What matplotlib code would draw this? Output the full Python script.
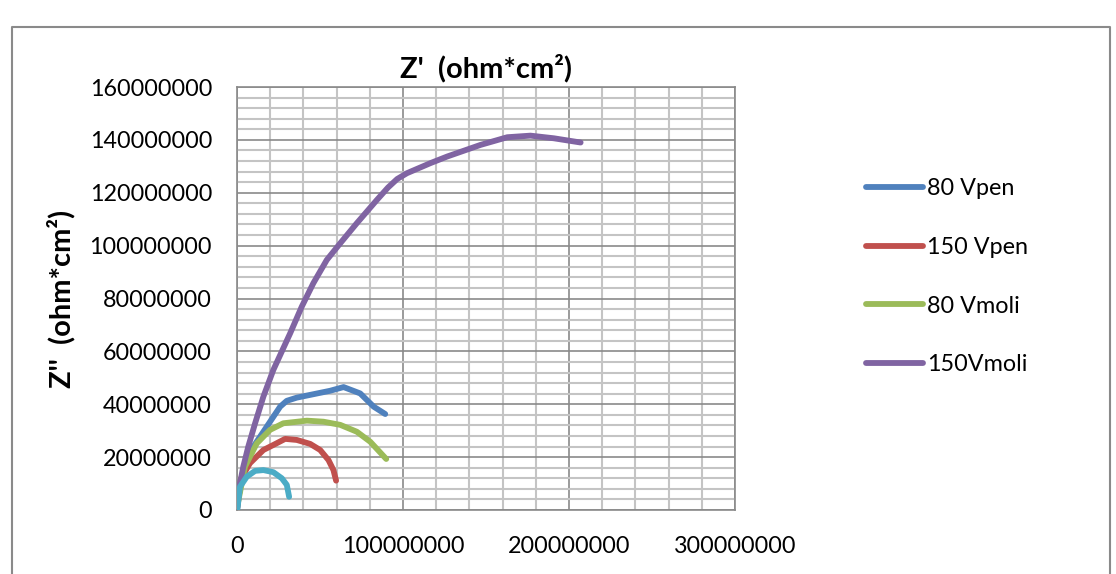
import matplotlib
matplotlib.use('Agg')
import matplotlib.pyplot as plt
from matplotlib.ticker import MultipleLocator
from matplotlib.lines import Line2D

plt.rcParams['font.family'] = ['Lato', 'DejaVu Sans']

# Data (values in ohm*cm^2)
x_80vpen = [0.2e6, 3.8e6, 9.8e6, 17.9e6, 26.0e6, 30.0e6, 36.0e6, 56.1e6, 64.2e6, 74.2e6, 82.3e6, 89.3e6]
y_80vpen = [2.5e6, 15.1e6, 23.9e6, 31.5e6, 39.1e6, 41.3e6, 42.5e6, 45.1e6, 46.5e6, 44.1e6, 39.1e6, 36.3e6]

x_150vpen = [0.2e6, 2.5e6, 7.8e6, 15.9e6, 21.9e6, 29.0e6, 36.0e6, 44.1e6, 50.1e6, 55.1e6, 58.1e6, 59.7e6]
y_150vpen = [1.0e6, 12.0e6, 17.7e6, 22.7e6, 24.6e6, 26.9e6, 26.5e6, 25.0e6, 22.7e6, 18.9e6, 15.1e6, 11.1e6]

x_80vmoli = [0.2e6, 4.8e6, 11.9e6, 19.9e6, 27.9e6, 42.1e6, 52.1e6, 62.2e6, 72.2e6, 80.3e6, 89.9e6]
y_80vmoli = [1.5e6, 16.4e6, 25.2e6, 30.3e6, 32.8e6, 33.8e6, 33.4e6, 32.2e6, 29.6e6, 25.8e6, 19.3e6]

x_150vmoli = [0, 1.4e6, 3.8e6, 6.8e6, 10.9e6, 15.9e6, 21.9e6, 32.0e6, 39.0e6, 46.0e6, 54.1e6, 62.2e6,
              72.2e6, 84.3e6, 91.0e6, 96.5e6, 102.4e6, 116.5e6, 126.6e6, 146.7e6, 162.8e6, 176.8e6,
              190.9e6, 207.0e6]
y_150vmoli = [0, 8.8e6, 16.4e6, 24.0e6, 32.8e6, 42.9e6, 53.0e6, 66.8e6, 76.9e6, 85.8e6, 94.6e6, 100.9e6,
              108.5e6, 117.3e6, 122.0e6, 125.2e6, 127.4e6, 131.2e6, 133.7e6, 138.1e6, 141.0e6, 141.6e6,
              140.6e6, 139.0e6]

# fifth series, not shown in the legend
x_extra = [0.2e6, 1.8e6, 5.9e6, 10.9e6, 15.9e6, 21.9e6, 27.0e6, 30.0e6, 31.4e6]
y_extra = [0, 8.8e6, 12.6e6, 14.8e6, 15.1e6, 14.3e6, 12.0e6, 9.5e6, 5.0e6]

fig = plt.figure(figsize=(11.16, 5.74), dpi=100)
ax = fig.add_axes([237/1116, 64/574, 498/1116, 423/574])

lw = 4.2
kw = dict(lw=lw, solid_capstyle='round', solid_joinstyle='round', zorder=3)
ax.plot(x_80vpen, y_80vpen, color='#4f81bd', label='80 Vpen', **kw)
ax.plot(x_150vpen, y_150vpen, color='#c0504d', label='150 Vpen', **kw)
ax.plot(x_80vmoli, y_80vmoli, color='#9bbb59', label='80 Vmoli', **kw)
ax.plot(x_150vmoli, y_150vmoli, color='#8064a2', label='150Vmoli', **kw)
ax.plot(x_extra, y_extra, color='#4bacc6', label='_nolegend_', **kw)

ax.set_xlim(0, 300000000)
ax.set_ylim(0, 160000000)
ax.xaxis.set_major_locator(MultipleLocator(100000000))
ax.xaxis.set_minor_locator(MultipleLocator(20000000))
ax.yaxis.set_major_locator(MultipleLocator(20000000))
ax.yaxis.set_minor_locator(MultipleLocator(4000000))
ax.ticklabel_format(style='plain', useOffset=False)

ax.grid(which='minor', color='#c4c4c4', lw=1.5, zorder=1)
ax.grid(which='major', color='#8a8a8a', lw=1.2, zorder=2)
ax.set_axisbelow(True)
for s in ax.spines.values():
    s.set_color('#8a8a8a')
    s.set_linewidth(1.2)

ax.tick_params(which='both', length=0, labelsize=16.8)
ax.tick_params(axis='x', pad=19)
ax.tick_params(axis='y', pad=18)

ax.set_title("Z'  (ohm*cm²)", fontsize=21, fontweight='bold', pad=7)
ax.set_ylabel("Z''  (ohm*cm²)", fontsize=21, fontweight='bold', labelpad=10)

handles = [Line2D([], [], color=c, lw=lw, solid_capstyle='round') for c in
           ['#4f81bd', '#c0504d', '#9bbb59', '#8064a2']]
fig.legend(handles, ['80 Vpen', '150 Vpen', '80 Vmoli', '150Vmoli'],
           loc='upper left', bbox_to_anchor=(866/1116, 1 - 178/574),
           frameon=False, fontsize=16.8, handlelength=2.45, handletextpad=0.15,
           labelspacing=1.62, borderpad=0, borderaxespad=0)

# outer chart border
fig.add_artist(Line2D([12/1116, 12/1116, 1110/1116, 1110/1116],
                      [0, 1 - 27/574, 1 - 27/574, 0],
                      transform=fig.transFigure, color='#8a8a8a', lw=1.5))

fig.savefig('out.png', dpi=100)
